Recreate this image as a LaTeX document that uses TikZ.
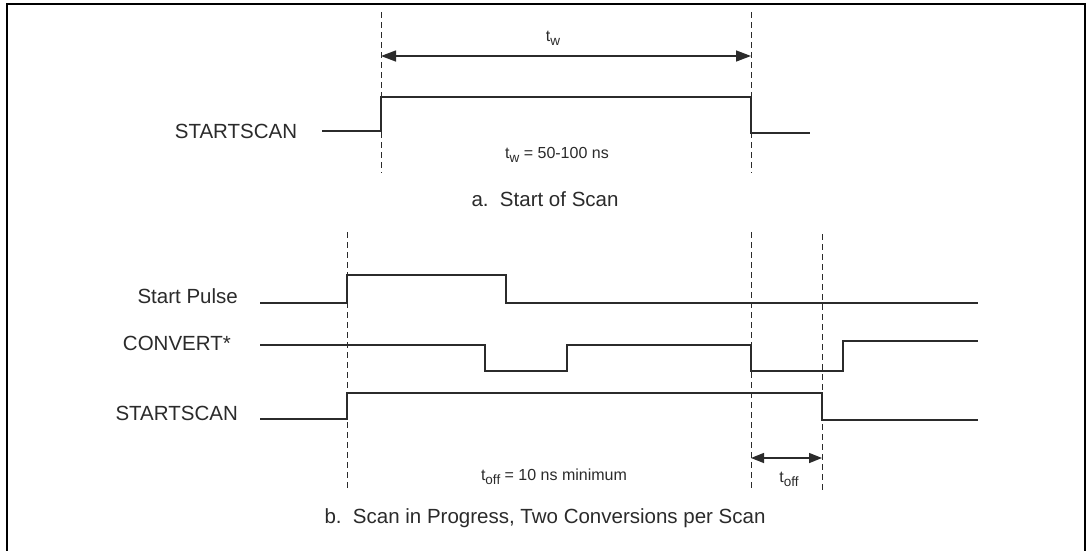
\documentclass[tikz,border=0pt]{standalone}
\usepackage{fontspec}
\setmainfont{Liberation Sans}
\usetikzlibrary{arrows.meta}
\definecolor{ink}{HTML}{2B2B2B}
\newcommand{\lowsub}[1]{\raisebox{-0.45ex}{\fontsize{13.5}{14}\selectfont #1}}
\tikzset{
  wave/.style={draw=ink, line width=1.3pt},
  guide/.style={draw=ink, line width=1pt, dash pattern=on 6pt off 4pt},
  dim/.style={draw=ink, line width=1.4pt, {Triangle[length=15pt,width=11pt]}-{Triangle[length=15pt,width=11pt]}},
  dimsmall/.style={draw=ink, line width=1.4pt, {Triangle[length=13pt,width=10pt]}-{Triangle[length=13pt,width=10pt]}},
  lbl/.style={text=ink, font=\fontsize{20.5}{24}\selectfont, inner sep=0pt},
  captxt/.style={text=ink, font=\fontsize{20.5}{24}\selectfont, inner sep=0pt},
  small/.style={text=ink, font=\fontsize{16}{19}\selectfont, inner sep=0pt},
  frame/.style={draw=black, line width=2pt}
}
\begin{document}
\begin{tikzpicture}[x=1pt,y=-1pt]
\useasboundingbox (0,0) rectangle (1086,550);
\fill[white] (0,0) rectangle (1086,550);
% frame (open at bottom)
\draw[frame] (6.5,560) -- (6.5,4) -- (1085,4) -- (1085,560);

% ---------- a. Start of Scan ----------
\coordinate (a1t) at (381,12);  \coordinate (a1b) at (381,173);
\coordinate (a2t) at (751,12);  \coordinate (a2b) at (751,173);
\draw[guide] (a1t) -- (a1b);
\draw[guide] (a2t) -- (a2b);
\coordinate (tw1) at (381,56); \coordinate (tw2) at (751,56);
\draw[dim] (tw1) -- (tw2);
\node[small] (twl) at (553,38) {t\lowsub{w}};

\node[lbl] (ssa) at (236,131) {STARTSCAN};
\coordinate (sa0) at (322,131);
\draw[wave] (sa0) -- (381,131) -- (381,97) -- (751,97) -- (751,133) -- (810,133);
\node[small] (twe) at (557,155) {t\lowsub{w} = 50-100 ns};
\node[captxt] (capa) at (545,199) {a.\ \ Start of Scan};

% ---------- b. Scan in Progress ----------
\coordinate (b1t) at (347,232); \coordinate (b1b) at (347,490);
\coordinate (b2t) at (751,232); \coordinate (b2b) at (751,490);
\coordinate (b3t) at (822,234); \coordinate (b3b) at (822,490);
\draw[guide] (b1t) -- (b1b);
\draw[guide] (b2t) -- (b2b);
\draw[guide] (b3t) -- (b3b);

\node[lbl, anchor=east] (sp) at (238,296) {Start Pulse};
\draw[wave] (260,303) -- (347,303) -- (347,275) -- (506,275) -- (506,303) -- (978,303);

\node[lbl, anchor=east] (cv) at (231,343) {CONVERT*};
\draw[wave] (260,345) -- (485,345) -- (485,371) -- (567,371) -- (567,345) -- (751,345)
  -- (751,371) -- (843,371) -- (843,341) -- (978,341);

\node[lbl, anchor=east] (ssb) at (238,413) {STARTSCAN};
\draw[wave] (260,419) -- (347,419) -- (347,393) -- (822,393) -- (822,420) -- (978,420);

\coordinate (to1) at (751,458); \coordinate (to2) at (822,458);
\draw[dimsmall] (to1) -- (to2);
\node[small] (tol) at (789,479) {t\lowsub{off}};
\node[small] (toe) at (554,477) {t\lowsub{off} = 10 ns minimum};
\node[captxt] (capb) at (545,518) {b.\ \ Scan in Progress, Two Conversions per Scan};
\end{tikzpicture}
\end{document}
